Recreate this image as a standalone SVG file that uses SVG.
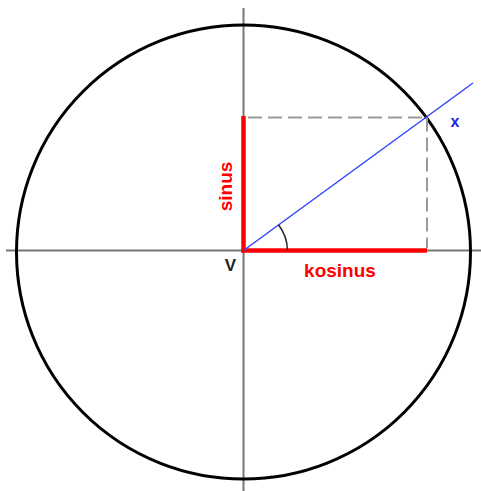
<svg xmlns="http://www.w3.org/2000/svg" width="481" height="491" viewBox="0 0 481 491">
<style>
.axis{stroke:#777;stroke-width:2;fill:none}
.dash{stroke:#999;stroke-width:2;stroke-dasharray:14 6;fill:none}
.red{stroke:#ff0000;stroke-width:4.5;fill:none}
.lbl{font-family:"Liberation Sans",Arial,sans-serif;font-weight:bold}
</style>
<rect width="481" height="491" fill="#fff"/>
<g id="axes">
<line class="axis" x1="6" y1="250.5" x2="481" y2="250.5"/>
<line class="axis" x1="243.5" y1="8" x2="243.5" y2="491"/>
</g>
<g id="circle">
<circle cx="243.5" cy="252" r="227" fill="none" stroke="#000" stroke-width="3"/>
</g>
<g id="projections">
<line class="dash" x1="248" y1="117.5" x2="427" y2="117.5"/>
<line class="dash" x1="427" y1="117.5" x2="427" y2="248"/>
</g>
<g id="sinus">
<line class="red" x1="243.5" y1="116" x2="243.5" y2="252.5"/>
<text class="lbl" transform="translate(231.5,186.5) rotate(-90)" text-anchor="middle" font-size="19" fill="#ff0000">sinus</text>
</g>
<g id="kosinus">
<line class="red" x1="241.5" y1="250.5" x2="427" y2="250.5"/>
<text class="lbl" x="340" y="276.5" text-anchor="middle" font-size="19" fill="#ff0000">kosinus</text>
</g>
<g id="ray">
<line x1="243.5" y1="250.5" x2="473" y2="83" stroke="#3344ff" stroke-width="1.5"/>
<text class="lbl" x="455" y="126.5" text-anchor="middle" font-size="16" fill="#2222ee">x</text>
</g>
<g id="angle">
<path d="M278.5,224.8 A44,44 0 0 1 287.5,250.5" fill="none" stroke="#222" stroke-width="1.5"/>
</g>
<g id="origin">
<text class="lbl" x="230.5" y="270.5" text-anchor="middle" font-size="17" fill="#222">V</text>
</g>
</svg>
